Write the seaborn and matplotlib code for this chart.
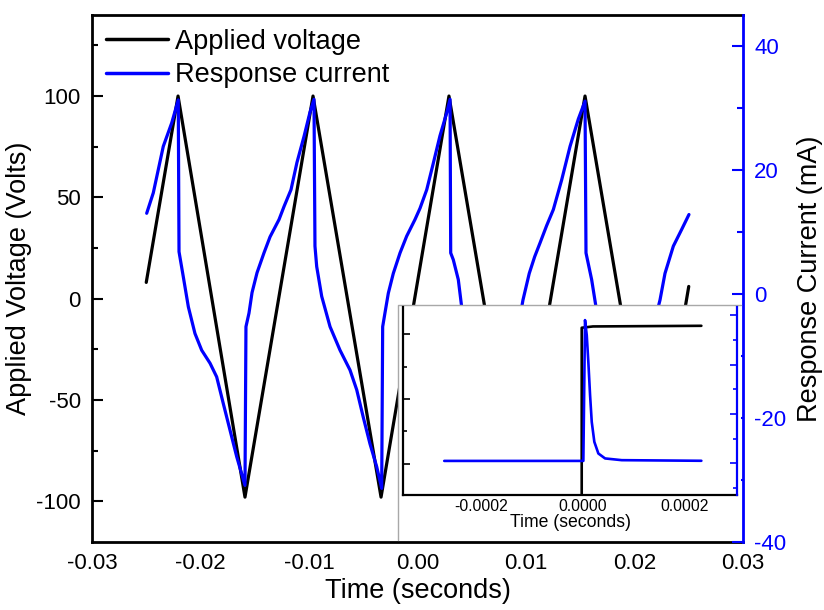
import numpy as np
import pandas as pd
import matplotlib
matplotlib.use("Agg")
import matplotlib.pyplot as plt
import seaborn as sns
from matplotlib.ticker import MultipleLocator, FormatStrFormatter
from matplotlib.patches import Rectangle
from matplotlib.lines import Line2D

# ---------------- data ----------------
volt_t = [-0.0250, -0.02207, -0.01590, -0.00963, -0.00336, 0.00290,
          0.00917, 0.01544, 0.02171, 0.0250]
volt_v = [8, 100, -98, 100, -98, 100, -98, 100, -98, 6]

curr_t = [-0.02496, -0.02435, -0.02343, -0.02265, -0.02205,
          -0.02198,
          -0.02159, -0.02112, -0.02051, -0.01989, -0.01912, -0.01851,
          -0.01790, -0.01728, -0.01666, -0.01590,
          -0.01581,
          -0.01553, -0.01525, -0.01479, -0.01415, -0.01359, -0.01276,
          -0.01230, -0.01166, -0.01111, -0.01046, -0.00991, -0.00954,
          -0.00945,
          -0.00929, -0.00883, -0.00806, -0.00714, -0.00622, -0.00560,
          -0.00500, -0.00438, -0.00376, -0.00330,
          -0.00321,
          -0.00300, -0.00269, -0.00223, -0.00161, -0.00100, -0.00023,
          0.00023, 0.00085, 0.00146, 0.00207, 0.00269, 0.00300,
          0.00306,
          0.00330, 0.00376, 0.00407, 0.00447, 0.00539, 0.00631, 0.00693,
          0.00753, 0.00815, 0.00877, 0.00917,
          0.00925,
          0.00950, 0.00972, 0.01030, 0.01080, 0.01129, 0.01190, 0.01252,
          0.01329, 0.01406, 0.01482, 0.01544,
          0.01553,
          0.01605, 0.01645, 0.01700, 0.01792, 0.01884, 0.01946, 0.02006,
          0.02068, 0.02130, 0.02171,
          0.02180,
          0.02206, 0.02235, 0.02281, 0.02358, 0.02435, 0.02502]
curr_i = [13.0, 16.3, 23.8, 27.6, 31.3,
          6.8,
          2.8, -2.1, -6.4, -9.1, -11.2, -13.4,
          -17.7, -22.0, -26.3, -30.9,
          -5.3,
          -3.1, 0.2, 3.4, 6.6, 9.2, 12.0,
          14.1, 16.8, 21.2, 25.4, 29.3, 31.4,
          7.7,
          4.4, -0.4, -5.3, -9.1, -12.3, -15.5,
          -19.9, -24.2, -27.9, -31.4,
          -5.3,
          -3.1, 0.1, 3.3, 6.6, 9.3, 12.0,
          13.8, 16.8, 21.1, 25.5, 29.2, 31.4,
          6.6,
          5.5, 2.3, -2.1, -5.3, -9.1, -12.3, -15.5,
          -19.9, -24.2, -27.9, -31.0,
          -5.3,
          -3.2, -1.0, 3.3, 6.0, 8.2, 11.0, 13.6,
          18.4, 23.8, 28.2, 31.1,
          6.6,
          2.3, -2.1, -5.3, -9.1, -12.3, -15.5, -19.9,
          -24.2, -27.9, -31.0,
          -5.3,
          -3.0, -1.0, 3.3, 7.7, 10.4, 12.8]

# inset (zoom on one voltage step)
ins_volt_t = [-0.00027, -0.000002, -0.000002, 0.00002, 0.000233]
ins_volt_v = [-100, -100, 105, 106, 106.5]
ins_curr_t = [-0.000272, 0.0000012, 0.0000045, 0.0000079, 0.000011,
              0.0000144, 0.0000177, 0.0000228, 0.0000307, 0.0000439,
              0.0000767, 0.000233]
ins_curr_i = [1.0, 1.0, 58.0, 51.9, 41.1, 27.7, 16.8, 8.7, 4.0, 2.0,
              1.3, 1.05]

legend_labels = ["Applied voltage", "Response current"]

# ---------------- style ----------------
sns.set_style("white")
plt.rcParams['font.family'] = ['Liberation Sans', 'DejaVu Sans']
plt.rcParams['axes.unicode_minus'] = False
plt.rcParams['text.color'] = 'black'
plt.rcParams['axes.labelcolor'] = 'black'
plt.rcParams['xtick.color'] = 'black'
plt.rcParams['ytick.color'] = 'black'

BLUE = "#0000FF"
W, H = 824, 610
fig = plt.figure(figsize=(W / 100, H / 100), dpi=100)

L, R, T, B = 92, 743, 15, 541.7
ax = fig.add_axes([L / W, 1 - B / H, (R - L) / W, (B - T) / H])
ax2 = ax.twinx()

sns.lineplot(x=volt_t, y=volt_v, ax=ax, color="black", linewidth=2.3,
             sort=False, estimator=None)
sns.lineplot(x=curr_t, y=curr_i, ax=ax2, color=BLUE, linewidth=2.3,
             sort=False, estimator=None)

ax.set_xlim(-0.03, 0.03)
ax.set_ylim(-120, 140)
ax2.set_ylim(-40, 45)

ax.xaxis.set_major_locator(MultipleLocator(0.01))
ax.xaxis.set_minor_locator(MultipleLocator(0.005))
ax.xaxis.set_major_formatter(FormatStrFormatter('%.2f'))
ax.yaxis.set_major_locator(MultipleLocator(50))
ax.yaxis.set_minor_locator(MultipleLocator(25))
ax2.yaxis.set_major_locator(MultipleLocator(20))
ax2.yaxis.set_minor_locator(MultipleLocator(10))

for s in ["left", "bottom", "top"]:
    ax.spines[s].set_color("black")
    ax.spines[s].set_linewidth(2.0)
ax.spines["right"].set_visible(False)
for s in ["left", "bottom", "top"]:
    ax2.spines[s].set_visible(False)
ax2.spines["right"].set_color(BLUE)
ax2.spines["right"].set_linewidth(2.0)

ax.tick_params(which="both", direction="in", top=False, right=False,
               labelsize=16, pad=8, width=1.5, color="black",
               labelcolor="black")
ax.tick_params(which="major", length=8)
ax.tick_params(which="minor", length=4)
ax2.tick_params(axis="y", which="both", direction="in", colors=BLUE,
                labelsize=16, pad=8, width=1.5)
ax2.tick_params(axis="y", which="major", length=8)
ax2.tick_params(axis="y", which="minor", length=4)

ax.set_xlabel("Time (seconds)", fontsize=19.5, labelpad=3, color="black")
ax.set_ylabel("Applied Voltage (Volts)", fontsize=19.5, labelpad=3,
              color="black")
ax2.set_ylabel("Response Current (mA)", fontsize=19.5, labelpad=8,
               color="black")

handles = [Line2D([], [], color="black", lw=2.5),
           Line2D([], [], color=BLUE, lw=2.5)]
ax2.legend(handles, legend_labels, loc="upper left",
           bbox_to_anchor=(0.0, 1.0), frameon=False, fontsize=19.5,
           handlelength=2.3, handletextpad=0.28, labelspacing=0.28,
           borderaxespad=0.1, labelcolor="black")

# ---------------- inset ----------------
iL, iR, iT, iB = 403, 737, 307, 495
axins = fig.add_axes([iL / W, 1 - iB / H, (iR - iL) / W, (iB - iT) / H])
axins.set_zorder(5)
axins2 = axins.twinx()
axins2.set_zorder(6)

iw, ih = iR - iL, iB - iT
fx0 = (398 - iL) / iw
fx1 = (741.3 - iL) / iw
fy0 = (iB - 540.4) / ih
fy1 = (iB - 305) / ih
axins.add_patch(Rectangle((fx0, fy0), fx1 - fx0, fy1 - fy0,
                          transform=axins.transAxes, facecolor="white",
                          edgecolor="none", clip_on=False, zorder=0.5))
axins.add_line(Line2D([fx0, fx0, fx1], [fy0, fy1, fy1],
                      transform=axins.transAxes, color="#a8a8a8", lw=1.0,
                      clip_on=False, zorder=0.6))

sns.lineplot(x=ins_volt_t, y=ins_volt_v, ax=axins, color="black",
             linewidth=1.9, sort=False, estimator=None)
sns.lineplot(x=ins_curr_t, y=ins_curr_i, ax=axins2, color=BLUE,
             linewidth=1.9, sort=False, estimator=None)

axins.set_xlim(-0.000353, 0.000303)
axins.set_ylim(-24, 121)
axins2.set_ylim(-12.8, 63.3)
axins.xaxis.set_major_locator(MultipleLocator(0.0002))
axins.xaxis.set_minor_locator(MultipleLocator(0.0001))
axins.xaxis.set_major_formatter(FormatStrFormatter('%.4f'))
axins.yaxis.set_major_locator(MultipleLocator(50))
axins.yaxis.set_minor_locator(MultipleLocator(25))
axins2.yaxis.set_major_locator(MultipleLocator(20))
axins2.yaxis.set_minor_locator(MultipleLocator(10))

axins.spines["top"].set_visible(False)
axins.spines["right"].set_visible(False)
for s in ["left", "bottom"]:
    axins.spines[s].set_color("black")
    axins.spines[s].set_linewidth(1.6)
for s in ["left", "bottom", "top"]:
    axins2.spines[s].set_visible(False)
axins2.spines["right"].set_color(BLUE)
axins2.spines["right"].set_linewidth(1.6)

axins.tick_params(which="both", direction="in", top=False, right=False,
                  labelleft=False, labelsize=11.3, pad=3, width=1.2,
                  color="black", labelcolor="black")
axins.tick_params(which="major", length=5)
axins.tick_params(which="minor", length=3)
axins2.tick_params(axis="y", which="both", direction="in", colors=BLUE,
                   labelright=False, width=1.2)
axins2.tick_params(axis="y", which="major", length=5)
axins2.tick_params(axis="y", which="minor", length=3)
axins.set_xlabel("Time (seconds)", fontsize=12.7, labelpad=0,
                 color="black")
axins2.set_ylabel("")

fig.savefig("out.png", dpi=100)
